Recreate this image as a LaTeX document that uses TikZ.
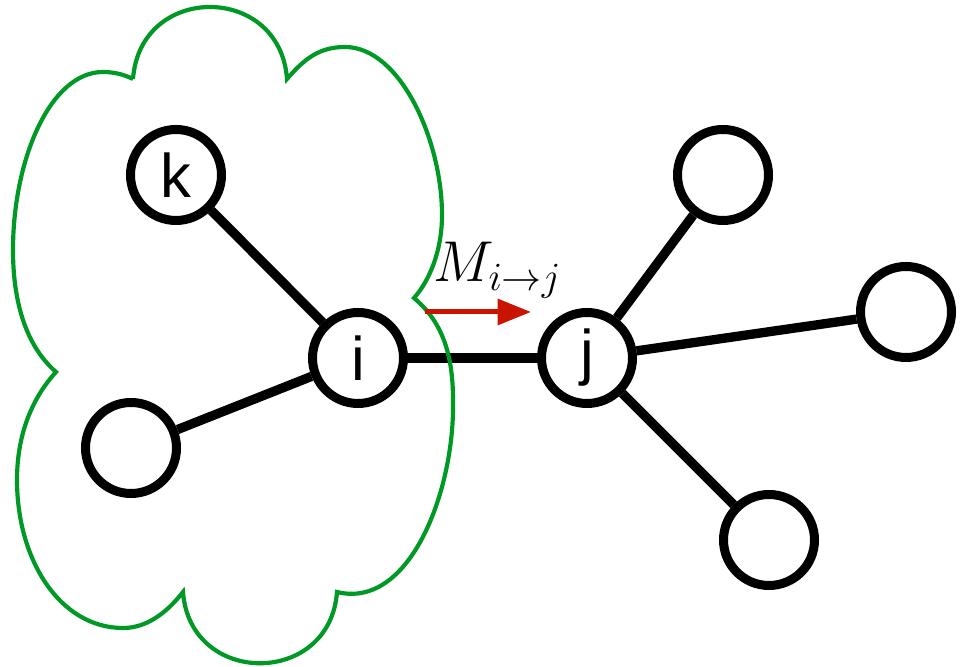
\documentclass[tikz,border=0pt]{standalone}
\usepackage{fontspec}
\newfontfamily\nodefont{Liberation Sans}
\usetikzlibrary{arrows.meta}
\definecolor{cloudgreen}{RGB}{0,153,38}
\definecolor{msgred}{RGB}{200,20,0}
\tikzset{
  vertex/.style={circle, draw=black, fill=white, line width=2.7pt,
    minimum size=27.3pt, inner sep=0pt, font=\nodefont\fontsize{18.5}{20}\selectfont},
  link/.style={line width=2.8pt, black},
  cloud line/.style={draw=cloudgreen, line width=1.25pt},
  message/.style={draw=msgred, line width=1.5pt,
    -{Triangle[length=10pt,width=7.6pt]}, msgred}
}
\begin{document}
\begin{tikzpicture}[x=0.3pt, y=-0.3pt]
\useasboundingbox (0,0) rectangle (966,667);

% vertices
\node[vertex] (k) at (176,175) {k};
\node[vertex] (i) at (358,358) {i};
\node[vertex] (l) at (131,448) {};
\node[vertex] (j) at (587,358) {j};
\node[vertex] (a) at (723,175) {};
\node[vertex] (b) at (906,312) {};
\node[vertex] (c) at (769,540) {};

% edges
\draw[link] (k) -- (i);
\draw[link] (l) -- (i);
\draw[link] (i) -- (j);
\draw[link] (j) -- (a);
\draw[link] (j) -- (b);
\draw[link] (j) -- (c);

% cloud around the neighbourhood of i
\coordinate (cA) at (133,79);
\coordinate (cB) at (287,79);
\coordinate (cC) at (414,298);
\coordinate (cF) at (337,592);
\coordinate (cE) at (183,592);
\coordinate (cD) at (56,372);
\draw[cloud line]
  (cA) .. controls (140,-17) and (280,-17) .. (cB)
       .. controls (305,58) and (320,47) .. (345,47)
       .. controls (400,47) and (442,140) .. (442,215)
       .. controls (442,250) and (430,280) .. (cC)
       .. controls (440,320) and (453,350) .. (453,400)
       .. controls (455,490) and (410,610) .. (cF)
       .. controls (330,687) and (190,687) .. (cE)
       .. controls (165,615) and (145,628) .. (123,628)
       .. controls (60,628) and (17,560) .. (17,480)
       .. controls (17,430) and (35,395) .. (cD)
       .. controls (25,345) and (13,300) .. (13,250)
       .. controls (13,160) and (50,72) .. (103,72)
       .. controls (115,72) and (125,75) .. (cA);

% message from i to j
\coordinate (m0) at (425,312);
\coordinate (m1) at (531,312);
\draw[message] (m0) -- (m1);
\node[font=\fontsize{16.5}{19}\selectfont] (mlabel) at (498,270) {$M_{i\rightarrow j}$};
\end{tikzpicture}
\end{document}
